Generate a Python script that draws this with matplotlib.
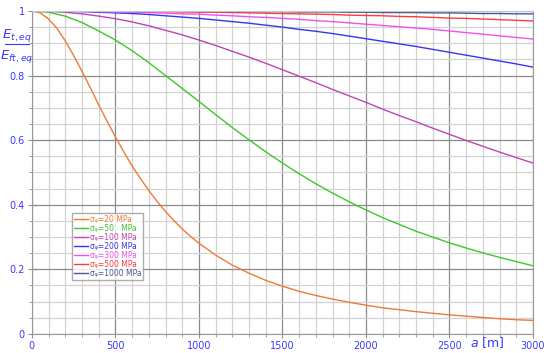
import numpy as np
import matplotlib
matplotlib.use('Agg')
import matplotlib.pyplot as plt
from matplotlib.ticker import MultipleLocator

# Abstand a [m]
a = list(range(0, 3001, 100))
# feinere Ablesung fuer die steile Kurve am Anfang
a20 = list(range(0, 1000, 50)) + list(range(1000, 3001, 100))

s20 = [1.000, 0.994, 0.975, 0.946, 0.907, 0.862, 0.813, 0.762, 0.709, 0.659,
       0.610, 0.564, 0.520, 0.481, 0.444, 0.410, 0.379, 0.351, 0.325, 0.302,
       0.281, 0.244, 0.213, 0.188, 0.166, 0.148, 0.132, 0.119, 0.108, 0.098,
       0.089, 0.081, 0.075, 0.069, 0.064, 0.059, 0.055, 0.051, 0.047, 0.044, 0.042]
s50 = [1.000, 0.996, 0.984, 0.964, 0.938, 0.910, 0.877, 0.840, 0.800, 0.760,
       0.720, 0.679, 0.639, 0.601, 0.564, 0.529, 0.496, 0.465, 0.436, 0.409,
       0.384, 0.360, 0.339, 0.318, 0.300, 0.282, 0.266, 0.251, 0.237, 0.224, 0.211]
s100 = [1.000, 0.999, 0.996, 0.991, 0.984, 0.976, 0.966, 0.954, 0.940, 0.926,
        0.910, 0.893, 0.875, 0.857, 0.838, 0.818, 0.798, 0.778, 0.757, 0.737,
        0.717, 0.696, 0.676, 0.657, 0.637, 0.618, 0.599, 0.581, 0.563, 0.546, 0.529]
s200 = [1.000, 1.000, 0.999, 0.998, 0.996, 0.994, 0.992, 0.989, 0.985, 0.981,
        0.977, 0.972, 0.967, 0.962, 0.956, 0.950, 0.943, 0.937, 0.930, 0.922,
        0.914, 0.906, 0.898, 0.890, 0.881, 0.872, 0.863, 0.854, 0.845, 0.836, 0.826]
s300 = [1.000, 1.000, 1.000, 0.999, 0.998, 0.997, 0.996, 0.995, 0.993, 0.991,
        0.990, 0.987, 0.985, 0.982, 0.980, 0.977, 0.974, 0.970, 0.967, 0.963,
        0.959, 0.955, 0.951, 0.947, 0.943, 0.938, 0.933, 0.928, 0.923, 0.918, 0.913]
s500 = [1.000, 1.000, 1.000, 1.000, 0.999, 0.999, 0.999, 0.998, 0.998, 0.997,
        0.996, 0.996, 0.995, 0.994, 0.993, 0.992, 0.991, 0.990, 0.989, 0.987,
        0.986, 0.985, 0.983, 0.982, 0.980, 0.978, 0.977, 0.975, 0.973, 0.971, 0.969]
s1000 = [1.000, 1.000, 1.000, 1.000, 1.000, 1.000, 1.000, 0.999, 0.999, 0.999,
         0.999, 0.999, 0.998, 0.998, 0.998, 0.998, 0.997, 0.997, 0.997, 0.996,
         0.996, 0.995, 0.995, 0.995, 0.994, 0.994, 0.993, 0.992, 0.992, 0.991, 0.991]

labels = ['σᵩ=20 MPa', 'σᵩ=50   MPa', 'σᵩ=100 MPa', 'σᵩ=200 MPa',
          'σᵩ=300 MPa', 'σᵩ=500 MPa', 'σᵩ=1000 MPa']
farben = ['#f07a35', '#3cc828', '#c043b4', '#3535ee', '#f050f0', '#ff3a3a', '#4a5a90']

blau = '#3a3aff'
plt.rcParams['mathtext.fontset'] = 'dejavusans'

fig = plt.figure(figsize=(5.5, 3.53), dpi=100)
ax = fig.add_axes([0.058, 0.054, 0.911, 0.915])

xs = [a20, a, a, a, a, a, a]
for x, s, lab, c in zip(xs, [s20, s50, s100, s200, s300, s500, s1000], labels, farben):
    ax.plot(x, s, color=c, lw=1.0, label=lab)

ax.set_xlim(0, 3000)
ax.set_ylim(0, 1)
ax.xaxis.set_major_locator(MultipleLocator(500))
ax.xaxis.set_minor_locator(MultipleLocator(100))
ax.yaxis.set_minor_locator(MultipleLocator(0.05))
ax.set_yticks([0, 0.2, 0.4, 0.6, 0.8, 1.0])
ax.set_yticklabels(['0', '0.2', '0.4', '0.6', '0.8', '1'])
ax.grid(True, which='minor', color='#d2d2d2', lw=0.9)
ax.grid(True, which='major', color='#8a8a8a', lw=0.9)
ax.set_axisbelow(True)
ax.tick_params(which='both', colors='#909090', labelcolor=blau, labelsize=7, length=3, pad=2)
ax.tick_params(which='minor', length=2)
for sp in ax.spines.values():
    sp.set_color('#999999')
ax.spines['top'].set_color('#c0c8d8')

# Achsbeschriftung als Bruch
fig.text(0.031, 0.893, r'$E_{t,eq}$', color=blau, fontsize=9.5, ha='center', va='baseline')
fig.add_artist(plt.Line2D([0.009, 0.053], [0.874, 0.874], color=blau, lw=0.8,
                          transform=fig.transFigure))
fig.text(0.031, 0.832, r'$E_{ft,eq}$', color=blau, fontsize=9.5, ha='center', va='baseline')
fig.text(0.885, 0.03, r'$a$ [m]', color=blau, fontsize=9, ha='center', va='center')

leg = ax.legend(loc='upper left', bbox_to_anchor=(0.08, 0.375), fontsize=5.5,
                frameon=True, fancybox=False, handlelength=1.8, handletextpad=0.2,
                labelspacing=0.0, borderpad=0.3, borderaxespad=0)
leg.get_frame().set_edgecolor('#999999')
leg.get_frame().set_linewidth(1.0)
for t, c in zip(leg.get_texts(), farben):
    t.set_color(c)

fig.savefig('out.png', dpi=100)
